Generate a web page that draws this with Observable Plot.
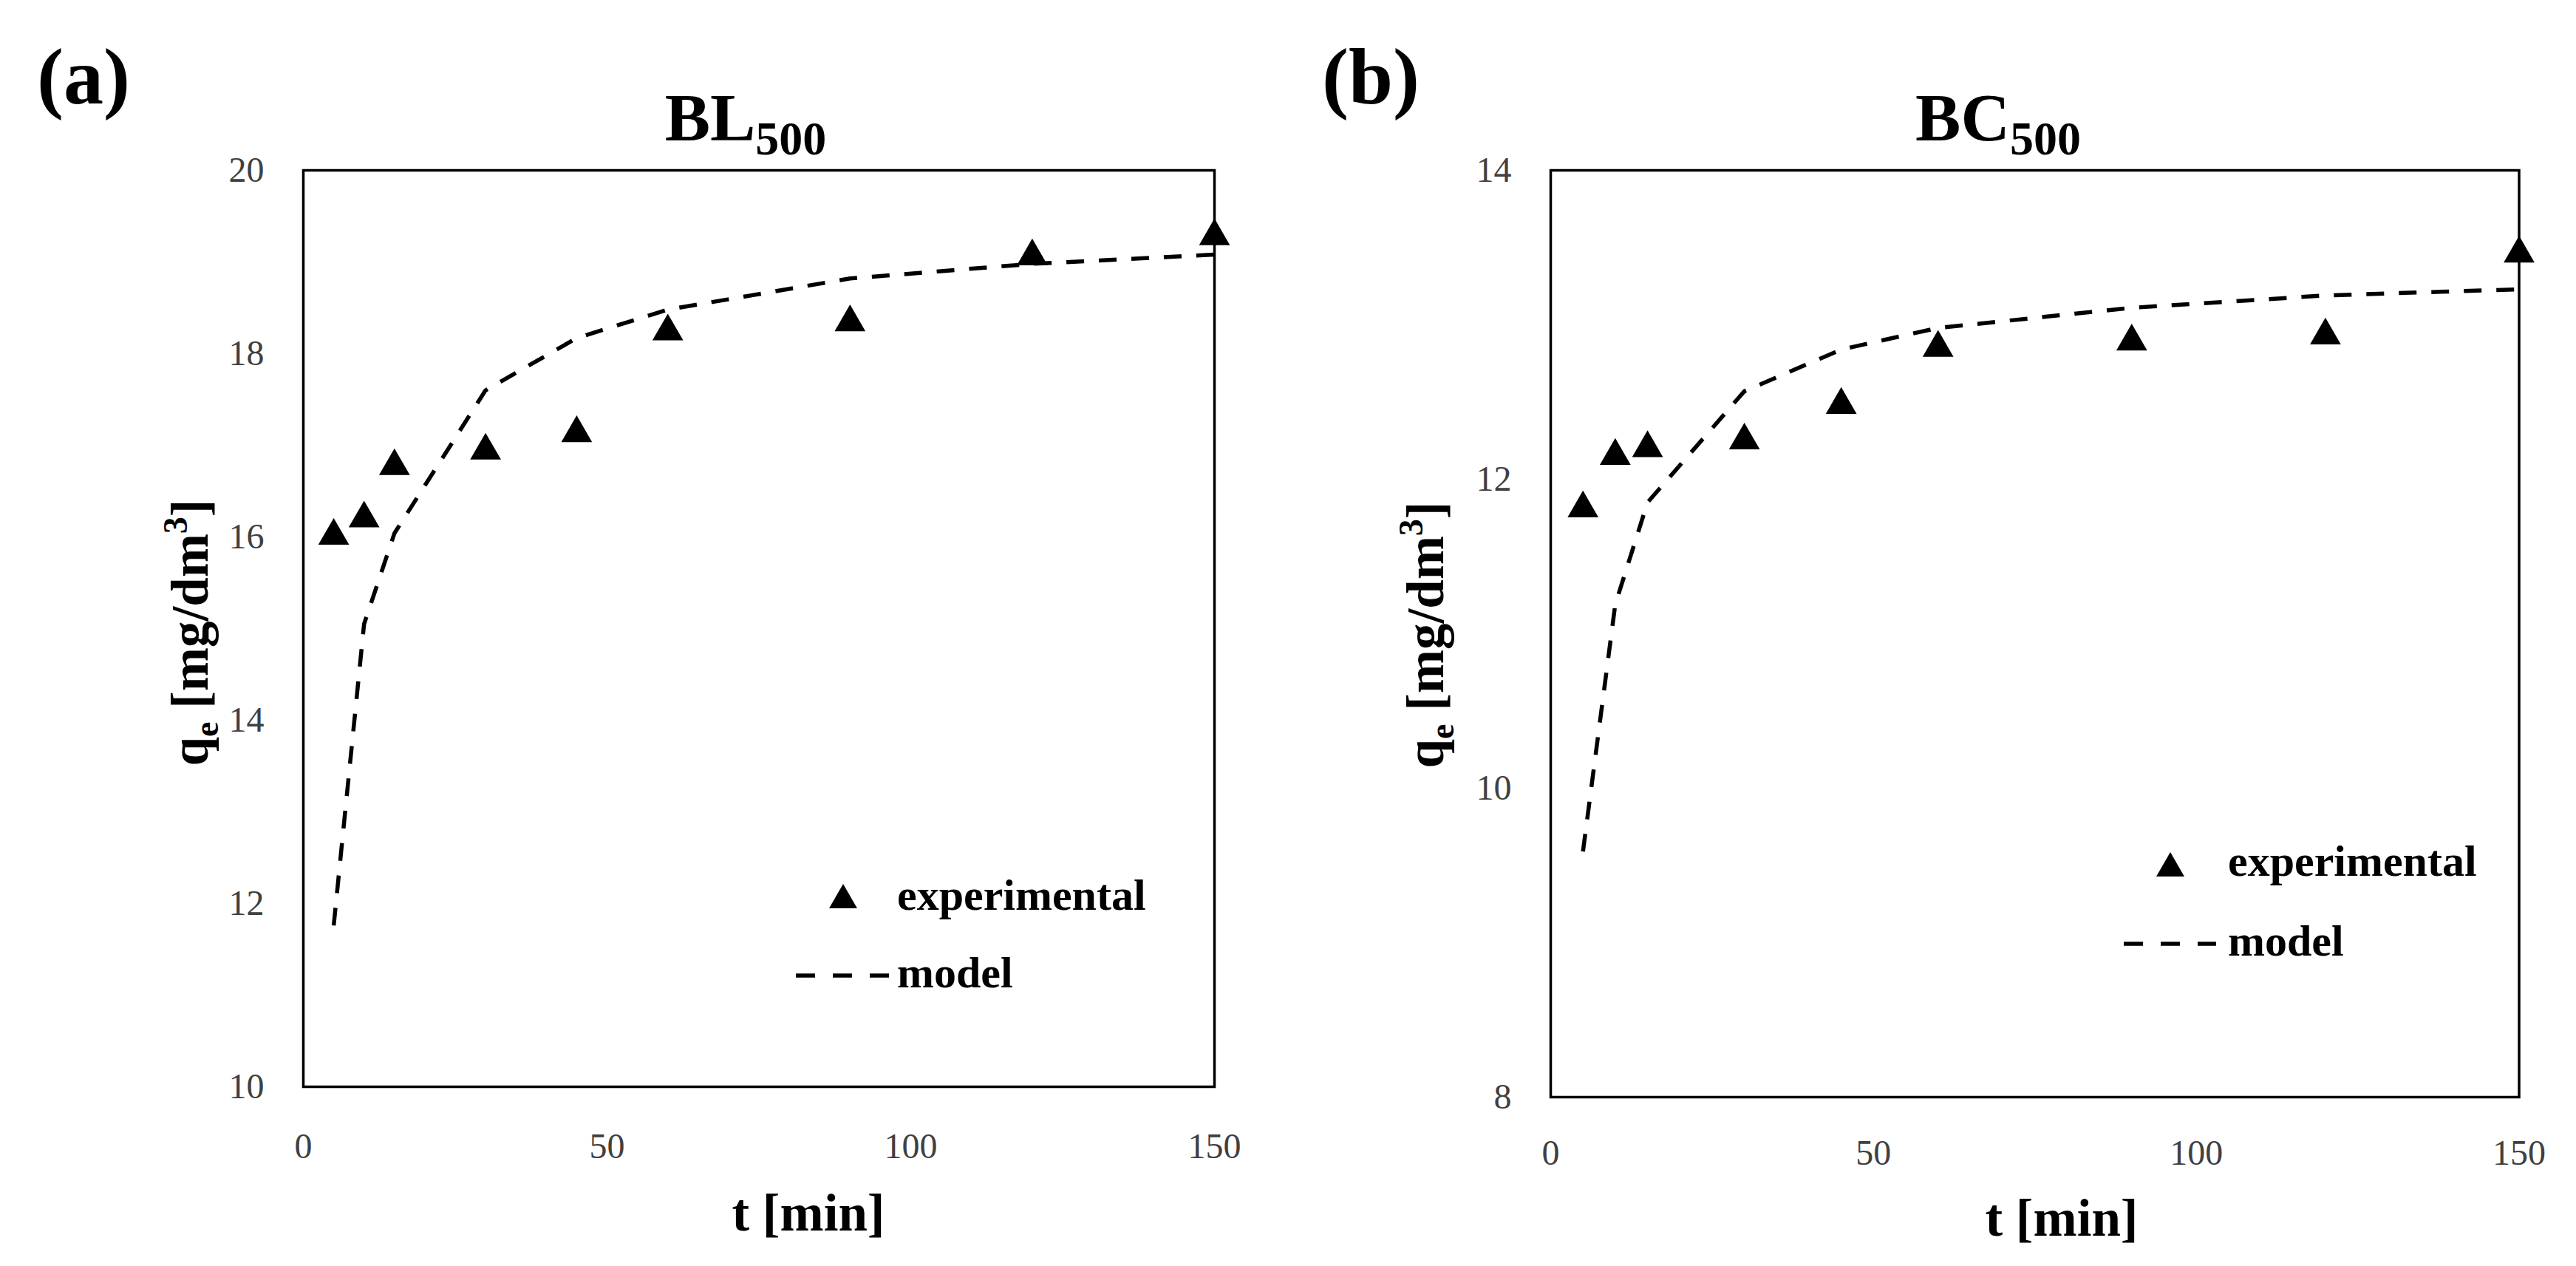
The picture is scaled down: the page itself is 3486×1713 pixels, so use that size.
<!DOCTYPE html>
<html>
<head>
<meta charset="utf-8">
<script src="https://cdn.jsdelivr.net/npm/d3@7"></script>
<script src="https://cdn.jsdelivr.net/npm/@observablehq/plot@0.6"></script>
<style>
  body { margin: 0; background: white; }
  #wrap { position: relative; width: 3486px; height: 1713px; background: white; }
  #wrap > div { position: absolute; top: 0; }
  #panelA { left: 0; }
  #panelB { left: 1743px; }
</style>
</head>
<body>
<div id="wrap">
  <div id="panelA"></div>
  <div id="panelB"></div>
</div>
<script>
// time of contact [min]
const times = [5, 10, 15, 30, 45, 60, 90, 120, 150];

// BL500 (a)
const expBL = [16.06, 16.25, 16.82, 16.99, 17.18, 18.29, 18.39, 19.11, 19.33];
const modelBL = [11.76, 15.05, 16.04, 17.60, 18.17, 18.48, 18.82, 18.98, 19.08];

// BC500 (b)
const expBC = [11.84, 12.18, 12.23, 12.28, 12.51, 12.88, 12.92, 12.96, 13.49];
const modelBC = [9.59, 11.19, 11.85, 12.57, 12.84, 12.98, 13.11, 13.19, 13.23];

// axis ticks
const xTicks = [0, 50, 100, 150];
const yTicksBL = [10, 12, 14, 16, 18, 20];
const yTicksBC = [8, 10, 12, 14];

const serif = "'Liberation Serif', 'DejaVu Serif', serif";

function drawPanel(divId, cfg) {
  const exp = times.map((t, i) => ({t: t, q: cfg.exp[i]}));
  const model = times.map((t, i) => ({t: t, q: cfg.model[i]}));

  const chart = Plot.plot({
    width: 1743,
    height: 1713,
    marginLeft: cfg.left,
    marginRight: cfg.right,
    marginTop: 230,
    marginBottom: cfg.bottom,
    x: {domain: [0, 150], ticks: xTicks, tickFormat: d => String(d),
        tickSize: 0, tickPadding: cfg.xPad, label: null},
    y: {domain: cfg.yDomain, ticks: cfg.yTicks, tickFormat: d => String(d),
        tickSize: 0, tickPadding: 53, label: null},
    style: {
      fontFamily: serif,
      fontSize: '48px',
      color: '#404040',
      background: 'white',
      overflow: 'visible',
    },
    marks: [
      Plot.frame({stroke: 'black', strokeWidth: 3.5}),
      Plot.line(model, {
        x: 't', y: 'q',
        stroke: 'black', strokeWidth: 5.5,
        strokeDasharray: '24,20', strokeLinecap: 'butt',
      }),
      Plot.dot(exp, {
        x: 't', y: 'q',
        symbol: 'triangle', r: 15.5, fill: 'black', dy: 6,
      }),
    ],
  });

  const svg = d3.select(chart);

  // panel letter
  svg.append('text')
    .attr('x', cfg.letterX).attr('y', 140)
    .attr('text-anchor', 'start')
    .attr('font-family', serif).attr('font-weight', 'bold')
    .attr('font-size', 108).attr('fill', 'black')
    .text(cfg.letter);

  // title with subscript
  const title = svg.append('text')
    .attr('x', cfg.titleX).attr('y', 190)
    .attr('text-anchor', 'middle')
    .attr('font-family', serif).attr('font-weight', 'bold')
    .attr('font-size', 92).attr('fill', 'black');
  title.append('tspan').text(cfg.title);
  title.append('tspan').attr('font-size', 64).attr('dy', 19).text('500');

  // y axis label
  const yl = svg.append('text')
    .attr('transform', `translate(${cfg.yLabX},${cfg.yLabY}) rotate(-90)`)
    .attr('text-anchor', 'middle')
    .attr('font-family', serif).attr('font-weight', 'bold')
    .attr('font-size', 71).attr('fill', 'black');
  yl.append('tspan').text('q');
  yl.append('tspan').attr('font-size', 46).attr('dy', 14).text('e');
  yl.append('tspan').attr('dy', -14).text(' [mg/dm');
  yl.append('tspan').attr('font-size', 46).attr('dy', -28).text('3');
  yl.append('tspan').attr('dy', 28).text(']');

  // x axis label
  svg.append('text')
    .attr('x', cfg.xLabX).attr('y', cfg.xLabY)
    .attr('text-anchor', 'middle')
    .attr('font-family', serif).attr('font-weight', 'bold')
    .attr('font-size', 71).attr('fill', 'black')
    .text('t [min]');

  // legend
  const lg = cfg.legend;
  svg.append('path')
    .attr('d', d3.symbol(d3.symbolTriangle, 625)())
    .attr('transform', `translate(${lg.triX},${lg.triY + 5})`)
    .attr('fill', 'black');
  svg.append('text')
    .attr('x', lg.textX).attr('y', lg.expY)
    .attr('text-anchor', 'start')
    .attr('font-family', serif).attr('font-weight', 'bold')
    .attr('font-size', 60).attr('fill', 'black')
    .text('experimental');
  svg.append('line')
    .attr('x1', lg.dashX1).attr('x2', lg.dashX2)
    .attr('y1', lg.dashY).attr('y2', lg.dashY)
    .attr('stroke', 'black').attr('stroke-width', 5.5)
    .attr('stroke-dasharray', '26,24');
  svg.append('text')
    .attr('x', lg.textX).attr('y', lg.modelY)
    .attr('text-anchor', 'start')
    .attr('font-family', serif).attr('font-weight', 'bold')
    .attr('font-size', 60).attr('fill', 'black')
    .text('model');

  d3.select(divId).append(() => chart);
}

drawPanel('#panelA', {
  exp: expBL, model: modelBL,
  yDomain: [10, 20], yTicks: yTicksBL,
  left: 410, right: 100, bottom: 243, xPad: 62,
  letter: '(a)', letterX: 50,
  title: 'BL', titleX: 1009,
  yLabX: 281, yLabY: 856,
  xLabX: 1094, xLabY: 1665,
  legend: {triX: 1141, triY: 1213, textX: 1214, expY: 1231,
           dashX1: 1077, dashX2: 1203, dashY: 1320, modelY: 1336},
});

drawPanel('#panelB', {
  exp: expBC, model: modelBC,
  yDomain: [8, 14], yTicks: yTicksBC,
  left: 355, right: 77.5, bottom: 229, xPad: 57,
  letter: '(b)', letterX: 46,
  title: 'BC', titleX: 961,
  yLabX: 210, yLabY: 859,
  xLabX: 1047, xLabY: 1672,
  legend: {triX: 1194, triY: 1170, textX: 1272, expY: 1185,
           dashX1: 1131, dashX2: 1256, dashY: 1277, modelY: 1293},
});
</script>
</body>
</html>
